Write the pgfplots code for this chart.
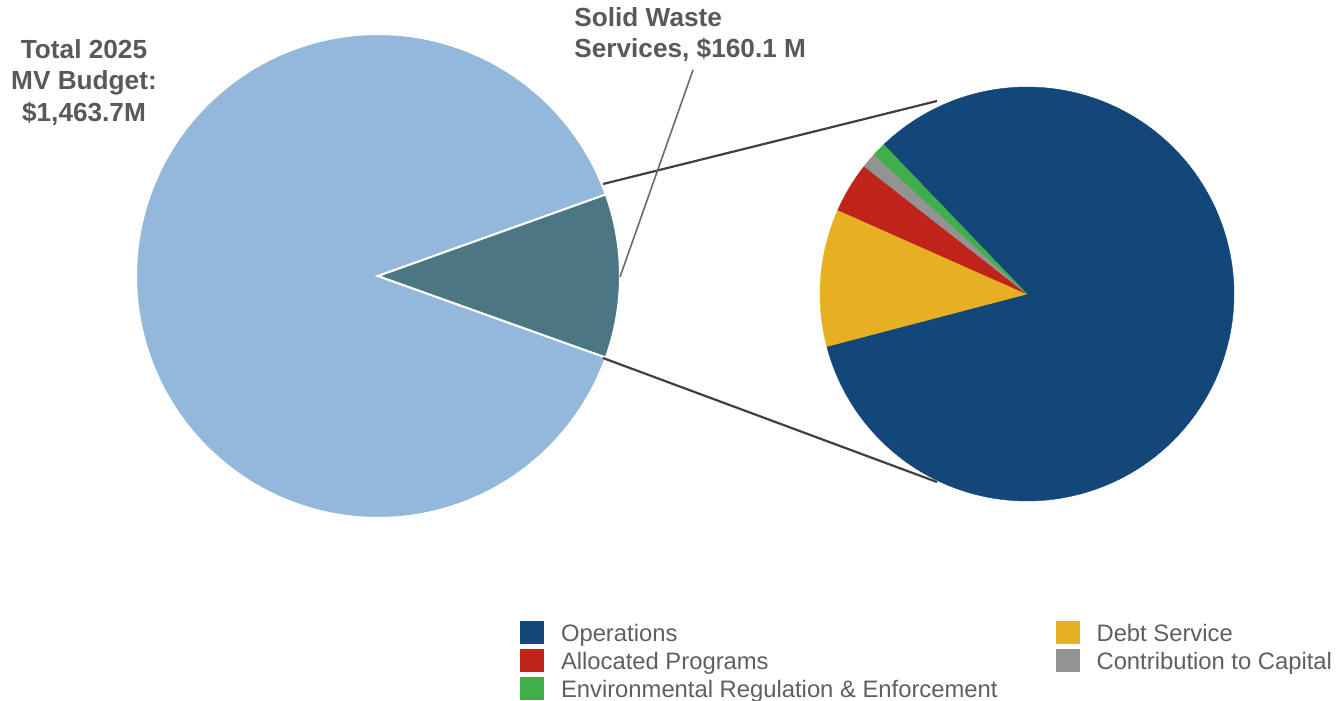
\documentclass[border=0pt]{standalone}
\usepackage{pgfplots}
\pgfplotsset{compat=1.18}
\usepackage{fontspec}
\setmainfont{Liberation Sans}
\definecolor{mvlight}{HTML}{93B8DC}
\definecolor{mvteal}{HTML}{4A7782}
\definecolor{opsblue}{HTML}{13477A}
\definecolor{debtyellow}{HTML}{E6B022}
\definecolor{allocred}{HTML}{C0231A}
\definecolor{capgray}{HTML}{939393}
\definecolor{envgreen}{HTML}{3FAE4B}
\definecolor{txtgray}{HTML}{595959}
\definecolor{leggray}{HTML}{5F5F5F}
\definecolor{linegray}{HTML}{404040}

% ---- data ($ millions) ----
\def\vTotal{1463.7}
\def\vSWS{160.1}
\def\vOps{133.1}
\def\vDebt{17.2}
\def\vAlloc{6.3}
\def\vCap{1.9}
\def\vEnv{1.7}
% geometry of the two pies (pixel units)
\def\Lcx{378}\def\Lcy{276}\def\Lr{242}
\def\Rcx{1027}\def\Rcy{294}\def\Rr{207}
\def\Rstart{133.8}

\pgfmathsetmacro{\aSWS}{(\vSWS/\vTotal)*360}
\pgfmathsetmacro{\sumR}{\vOps+\vDebt+\vAlloc+\vCap+\vEnv}
\pgfmathsetmacro{\aOps}{(\vOps/\sumR)*360}
\pgfmathsetmacro{\aDebt}{(\vDebt/\sumR)*360}
\pgfmathsetmacro{\aAlloc}{(\vAlloc/\sumR)*360}
\pgfmathsetmacro{\aCap}{(\vCap/\sumR)*360}
\pgfmathsetmacro{\aEnv}{(\vEnv/\sumR)*360}
% boundaries, going clockwise from start
\pgfmathsetmacro{\bA}{\Rstart}
\pgfmathsetmacro{\bB}{\bA-\aOps}
\pgfmathsetmacro{\bC}{\bB-\aDebt}
\pgfmathsetmacro{\bD}{\bC-\aAlloc}
\pgfmathsetmacro{\bE}{\bD-\aCap}
\pgfmathsetmacro{\bF}{\bE-\aEnv}
\pgfmathsetmacro{\hS}{\aSWS/2}
\pgfmathsetmacro{\hE}{360-\aSWS/2}

\begin{document}
\begin{tikzpicture}
\begin{axis}[name=ax,
  scale only axis, width=669pt, height=350.5pt,
  xmin=0, xmax=1338, ymin=0, ymax=701, y dir=reverse,
  hide axis, clip=false,
  legend columns=2,
  legend image code/.code={\fill[#1,draw=none] (0pt,-1.45pt) rectangle (12pt,10.05pt);},
  legend style={at={(axis cs:520,621)}, anchor=north west, draw=none, fill=none,
    inner sep=0pt, outer sep=0pt, font=\fontsize{11.9}{14}\selectfont, text=leggray,
    nodes={inner sep=0pt, text height=8.6pt, text depth=2.5pt, anchor=base west},
    row sep=1.5pt,
    /tikz/every odd column/.style={column sep=8.5pt},
    /tikz/every even column/.style={column sep=29pt}},
]
% ---- left pie ----
\addplot[forget plot, fill=mvlight, draw=white, line width=1pt, domain=\hS:\hE, samples=160]
  ({\Lcx+\Lr*cos(x)},{\Lcy-\Lr*sin(x)}) -- (\Lcx,\Lcy) -- cycle;
\addplot[forget plot, fill=mvteal, draw=white, line width=1pt, domain=-\hS:\hS, samples=40]
  ({\Lcx+\Lr*cos(x)},{\Lcy-\Lr*sin(x)}) -- (\Lcx,\Lcy) -- cycle;
% ---- right pie ----
\addplot[fill=opsblue, draw=opsblue, line width=0.2pt, domain=\bB:\bA, samples=160]
  ({\Rcx+\Rr*cos(x)},{\Rcy-\Rr*sin(x)}) -- (\Rcx,\Rcy) -- cycle;
\addlegendentry{Operations}
\addplot[fill=debtyellow, draw=debtyellow, line width=0.2pt, domain=\bC:\bB, samples=30]
  ({\Rcx+\Rr*cos(x)},{\Rcy-\Rr*sin(x)}) -- (\Rcx,\Rcy) -- cycle;
\addlegendentry{Debt Service}
\addplot[fill=allocred, draw=allocred, line width=0.2pt, domain=\bD:\bC, samples=15]
  ({\Rcx+\Rr*cos(x)},{\Rcy-\Rr*sin(x)}) -- (\Rcx,\Rcy) -- cycle;
\addlegendentry{Allocated Programs}
\addplot[fill=capgray, draw=capgray, line width=0.2pt, domain=\bE:\bD, samples=6]
  ({\Rcx+\Rr*cos(x)},{\Rcy-\Rr*sin(x)}) -- (\Rcx,\Rcy) -- cycle;
\addlegendentry{Contribution to Capital}
\addplot[fill=envgreen, draw=envgreen, line width=0.2pt, domain=\bF:\bE, samples=6]
  ({\Rcx+\Rr*cos(x)},{\Rcy-\Rr*sin(x)}) -- (\Rcx,\Rcy) -- cycle;
\addlegendentry{Environmental Regulation \& Enforcement}
% ---- connector lines ----
\addplot[forget plot, linegray, line width=1.1pt] coordinates {(603,184) (937,101)};
\addplot[forget plot, linegray, line width=1.1pt] coordinates {(603,358) (937,482)};
\addplot[forget plot, color=txtgray!90, line width=0.8pt] coordinates {(693,70) (620,277)};
% ---- labels ----
\begin{scope}[every node/.style={font=\bfseries\fontsize{13.1}{15}\selectfont, text=txtgray, inner sep=0pt}]
\node[anchor=base] at (84,59) {Total 2025};
\node[anchor=base] at (84,90) {MV Budget:};
\node[anchor=base] at (84,121) {\$1,463.7M};
\node[anchor=base west] at (574,27) {Solid Waste};
\node[anchor=base west] at (574,58) {Services, \$160.1 M};
\end{scope}
\end{axis}
\pgfresetboundingbox
\path (ax.south west) rectangle (ax.north east);
\end{tikzpicture}
\end{document}
